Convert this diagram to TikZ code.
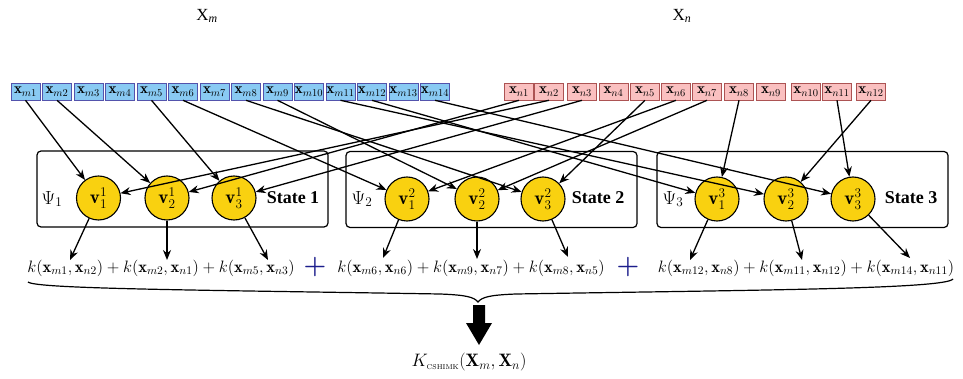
\RequirePackage{fix-cm}
\documentclass[tikz,border=0pt]{standalone}
\usepackage{fontspec}
\usetikzlibrary{arrows.meta}
\newfontfamily\timesf{Liberation Serif}
\definecolor{boxblue}{RGB}{137,202,243}
\definecolor{boxpink}{RGB}{250,192,192}
\definecolor{vyellow}{RGB}{249,209,16}
\definecolor{plusblue}{RGB}{28,30,140}
\begin{document}
\begin{tikzpicture}[x=1pt,y=-1pt,
  mbox/.style={draw=blue!35!gray, fill=boxblue, line width=0.6pt, minimum width=29pt, minimum height=17pt, inner xsep=0.4pt, inner ysep=0pt, text height=8pt, text depth=3pt, font=\fontsize{15}{15}\selectfont},
  nbox/.style={mbox, draw=red!35!gray, fill=boxpink},
  statebox/.style={draw, rounded corners=4pt, line width=1.2pt, minimum width=291pt, minimum height=76pt, inner sep=0pt},
  vnode/.style={circle, draw, fill=vyellow, line width=1.1pt, minimum size=44pt, inner sep=0pt, font=\fontsize{19}{19}\selectfont},
  psi/.style={font=\fontsize{19}{19}\selectfont},
  stlabel/.style={font=\timesf\bfseries\fontsize{18}{18}\selectfont},
  formula/.style={font=\fontsize{16.5}{16.5}\selectfont, inner sep=0pt},
  plus/.style={text=plusblue, font=\fontsize{26}{26}\selectfont\bfseries, inner sep=0pt},
  arr/.style={-{Stealth[length=10pt,width=8pt]}, line width=1.3pt},
  toplabel/.style={font=\timesf\fontsize{17}{17}\selectfont}]
\useasboundingbox (0,0) rectangle (963,379);
% top labels
\node[toplabel] (Xm) at (207,16) {X\textsubscript{\itshape m}};
\node[toplabel] (Xn) at (682,16) {X\textsubscript{\itshape n}};
% data boxes
\foreach \i in {1,...,14}
  \node[mbox] (m\i) at ({25.5+31.5*(\i-1)},91.5) {$\mathbf{x}_{m\i}$};
\foreach \x [count=\i] in {519,549,582,613.5,645,676,707,739,771,806,837,871}
  \node[nbox] (n\i) at (\x,91.5) {$\mathbf{x}_{n\i}$};
% state boxes
\node[statebox] (S1) at (182.5,189) {};
\node[statebox] (S2) at (491.5,189.5) {};
\node[statebox] (S3) at (802.5,189.5) {};
\node[psi] (p1) at (52,199) {$\Psi_1$};
\node[psi] (p2) at (362,199) {$\Psi_2$};
\node[psi] (p3) at (673,199) {$\Psi_3$};
\node[stlabel] (t1) at (293,198) {State 1};
\node[stlabel] (t2) at (598,198) {State 2};
\node[stlabel] (t3) at (911,198) {State 3};
% state nodes
\node[vnode] (v11) at (98.5,198) {$\mathbf{v}^1_1$};
\node[vnode] (v12) at (167,198) {$\mathbf{v}^1_2$};
\node[vnode] (v13) at (234,198) {$\mathbf{v}^1_3$};
\node[vnode] (v21) at (407,199) {$\mathbf{v}^2_1$};
\node[vnode] (v22) at (477,199) {$\mathbf{v}^2_2$};
\node[vnode] (v23) at (543,199) {$\mathbf{v}^2_3$};
\node[vnode] (v31) at (717,199) {$\mathbf{v}^3_1$};
\node[vnode] (v32) at (786,199) {$\mathbf{v}^3_2$};
\node[vnode] (v33) at (853,199) {$\mathbf{v}^3_3$};
% inputs
\foreach \a/\b in {m1/v11,n2/v11,m2/v12,n1/v12,m5/v13,n3/v13,
                   m6/v21,n6/v21,m9/v22,n7/v22,m8/v23,n5/v23,
                   m12/v31,n8/v31,m11/v32,n12/v32,m14/v33,n11/v33}
  \draw[arr] (\a.south) -- (\b);
% formulas
\node[formula] (F1) at (161,268) {$k(\mathbf{x}_{m1},\mathbf{x}_{n2})+k(\mathbf{x}_{m2},\mathbf{x}_{n1})+k(\mathbf{x}_{m5},\mathbf{x}_{n3})$};
\node[plus] (P1) at (315,267) {+};
\node[formula] (F2) at (471,268) {$k(\mathbf{x}_{m6},\mathbf{x}_{n6})+k(\mathbf{x}_{m9},\mathbf{x}_{n7})+k(\mathbf{x}_{m8},\mathbf{x}_{n5})$};
\node[plus] (P2) at (628,267) {+};
\node[formula] (F3) at (806,268) {$k(\mathbf{x}_{m12},\mathbf{x}_{n8})+k(\mathbf{x}_{m11},\mathbf{x}_{n12})+k(\mathbf{x}_{m14},\mathbf{x}_{n11})$};
% outputs
\coordinate (e11) at (70,260);
\coordinate (e12) at (167,260);
\coordinate (e13) at (268,260);
\coordinate (e21) at (383,258);
\coordinate (e22) at (477,259);
\coordinate (e23) at (568,257);
\coordinate (e31) at (690,260);
\coordinate (e32) at (802,260);
\coordinate (e33) at (910,258);
\foreach \v in {11,12,13,21,22,23,31,32,33}
  \draw[arr] (v\v) -- (e\v);
% brace
\draw[line width=1.2pt] (28,282) .. controls (36,289) and (200,290) .. (440,294)
  .. controls (466,295) and (474,297) .. (478,302)
  .. controls (482,297) and (490,295) .. (516,294)
  .. controls (760,290) and (945,289) .. (953,279);
% big arrow
\fill (473,305) -- (485,305) -- (485,323) -- (492,323) -- (479,345) -- (466,323) -- (473,323) -- cycle;
\node[font=\fontsize{18}{18}\selectfont] (K) at (469,362) {$K_{\mbox{\fontsize{7}{7}\selectfont CSHIMK}}(\mathbf{X}_m,\mathbf{X}_n)$};
\end{tikzpicture}
\end{document}
